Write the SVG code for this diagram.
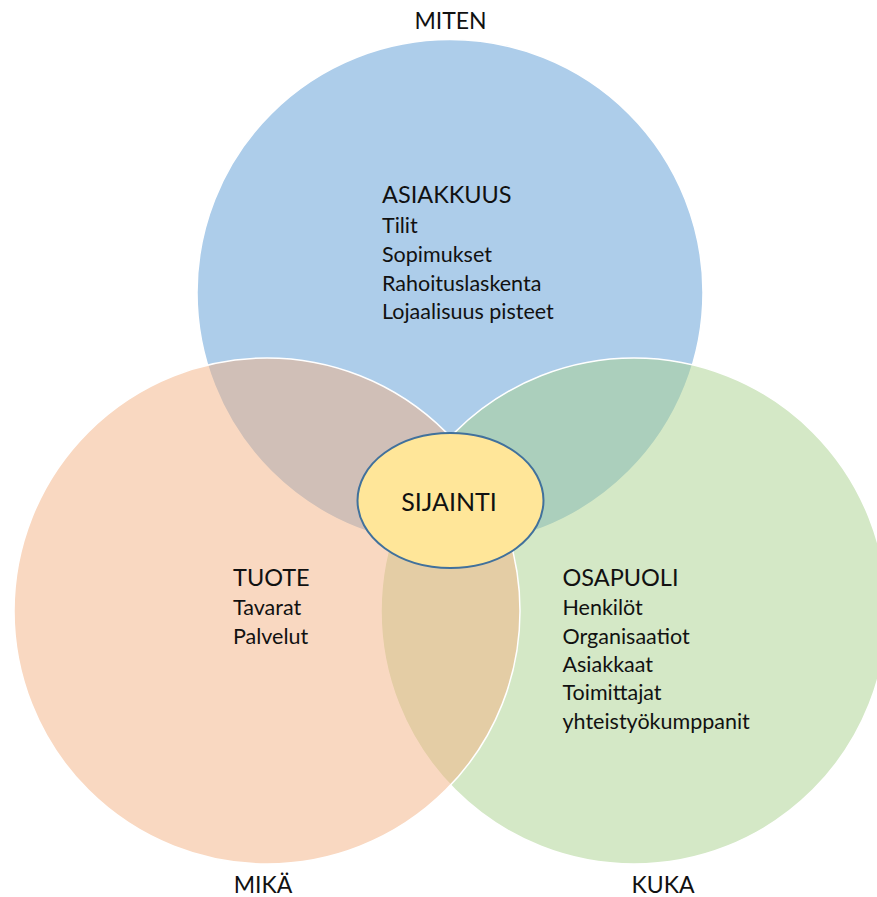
<svg xmlns="http://www.w3.org/2000/svg" width="877" height="897" viewBox="0 0 877 897">
  <style>
    .set { stroke: #ffffff; stroke-width: 1.5; }
    .blue { fill: #5b9bd5; fill-opacity: 0.5; }
    .green { fill: #a9d18e; fill-opacity: 0.5; }
    .orange { fill: #f4b183; fill-opacity: 0.5; }
    .core { fill: #ffe699; stroke: #41719c; stroke-width: 2; }
    text { font-family: Lato, "Noto Sans", "Liberation Sans", sans-serif; fill: #111111; }
    .head { font-size: 23.5px; }
    .item { font-size: 21.5px; }
    .axis { font-size: 23px; text-anchor: middle; }
  </style>
  <rect width="877" height="897" fill="#ffffff"/>

  <!-- Three overlapping sets -->
  <g id="asiakkuus">
    <circle class="set blue" cx="450" cy="292.5" r="253"/>
  </g>
  <g id="osapuoli">
    <circle class="set green" cx="634" cy="611" r="253"/>
  </g>
  <g id="tuote">
    <circle class="set orange" cx="267" cy="611" r="253"/>
  </g>

  <!-- Intersection in the middle -->
  <g id="sijainti">
    <ellipse class="core" cx="450.5" cy="500.5" rx="93" ry="67.5"/>
    <text x="449" y="511" font-size="25" text-anchor="middle">SIJAINTI</text>
  </g>

  <!-- Contents of each set -->
  <g id="asiakkuus-text">
    <text class="head" x="382" y="203">ASIAKKUUS</text>
    <text class="item" x="382" y="233">Tilit</text>
    <text class="item" x="382" y="261.5">Sopimukset</text>
    <text class="item" x="382" y="290.5">Rahoituslaskenta</text>
    <text class="item" x="382" y="319">Lojaalisuus pisteet</text>
  </g>
  <g id="tuote-text">
    <text class="head" x="233" y="586">TUOTE</text>
    <text class="item" x="233" y="615">Tavarat</text>
    <text class="item" x="233" y="643.5">Palvelut</text>
  </g>
  <g id="osapuoli-text">
    <text class="head" x="562.5" y="586">OSAPUOLI</text>
    <text class="item" x="562.5" y="615">Henkilöt</text>
    <text class="item" x="562.5" y="643.5">Organisaatiot</text>
    <text class="item" x="562.5" y="672">Asiakkaat</text>
    <text class="item" x="562.5" y="700">Toimittajat</text>
    <text class="item" x="562.5" y="728.5">yhteistyökumppanit</text>
  </g>

  <!-- Question labels around the sets -->
  <g id="labels">
    <text class="axis" x="450.5" y="28.5">MITEN</text>
    <text class="axis" x="263" y="892.5">MIKÄ</text>
    <text class="axis" x="663" y="892.5">KUKA</text>
  </g>
</svg>
